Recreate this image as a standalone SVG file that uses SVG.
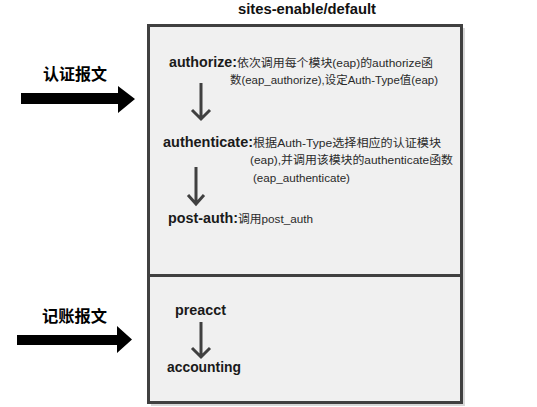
<svg xmlns="http://www.w3.org/2000/svg" width="537" height="407" viewBox="0 0 537 407">
<style>
.box{fill:#f0f0f0;stroke:#404040;stroke-width:3}
.shadow{fill:#d8d8d8}
.lbl{font-family:"Liberation Sans","Noto Sans CJK SC",sans-serif;font-weight:bold;font-size:14px;fill:#1a1a1a}
.desc{font-family:"Liberation Sans","Noto Sans CJK SC",sans-serif;font-size:11.5px;fill:#2a2a2a}
.title{font-family:"Liberation Sans",sans-serif;font-weight:bold;font-size:14px;fill:#111}
.cn{font-family:"Noto Sans CJK SC",sans-serif;font-weight:bold;font-size:16px;fill:#000}
.flow{fill:none;stroke:#404040;stroke-width:3}
.big{fill:#000}
</style>
<rect width="537" height="407" fill="#fff"/>
<g id="title"><text class="title" x="238" y="14" textLength="138" lengthAdjust="spacingAndGlyphs">sites-enable/default</text></g>
<g id="container">
<rect class="shadow" x="151" y="28" width="314" height="378"/>
<rect class="box" x="148.5" y="25.5" width="313" height="250"/>
<rect class="box" x="148.5" y="275.5" width="313" height="127"/>
</g>
<g id="auth-msg"><text class="cn" x="43" y="80" textLength="64" lengthAdjust="spacingAndGlyphs">认证报文</text></g>
<g id="acct-msg"><text class="cn" x="42" y="322" textLength="65" lengthAdjust="spacingAndGlyphs">记账报文</text></g>
<g id="authorize">
<text class="lbl" x="169" y="67" textLength="68" lengthAdjust="spacingAndGlyphs">authorize:</text>
<text class="desc" x="237" y="67" textLength="196" lengthAdjust="spacingAndGlyphs">依次调用每个模块(eap)的authorize函</text>
<text class="desc" x="230" y="84" textLength="208" lengthAdjust="spacingAndGlyphs">数(eap_authorize),设定Auth-Type值(eap)</text>
</g>
<g id="authenticate">
<text class="lbl" x="163" y="147" textLength="90" lengthAdjust="spacingAndGlyphs">authenticate:</text>
<text class="desc" x="253" y="147" textLength="188" lengthAdjust="spacingAndGlyphs">根据Auth-Type选择相应的认证模块</text>
<text class="desc" x="250" y="164" textLength="203" lengthAdjust="spacingAndGlyphs">(eap),并调用该模块的authenticate函数</text>
<text class="desc" x="253" y="182" textLength="97" lengthAdjust="spacingAndGlyphs">(eap_authenticate)</text>
</g>
<g id="post-auth">
<text class="lbl" x="168" y="223" textLength="70" lengthAdjust="spacingAndGlyphs">post-auth:</text>
<text class="desc" x="238" y="223" textLength="75" lengthAdjust="spacingAndGlyphs">调用post_auth</text>
</g>
<g id="preacct"><text class="lbl" x="175" y="315" textLength="51" lengthAdjust="spacingAndGlyphs">preacct</text></g>
<g id="accounting"><text class="lbl" x="167" y="372" textLength="74" lengthAdjust="spacingAndGlyphs">accounting</text></g>
<g id="connectors">
<polygon class="big" points="21,93 118,93 118,86 135,99 118,113 118,104 21,104"/>
<polygon class="big" points="17,335 117,335 117,326 132,339.5 117,353 117,345 17,345"/>
<path class="flow" d="M201,83V119M192,110L201,119L210,110"/>
<path class="flow" d="M196,167V204M188,195L196,204L204,195"/>
<path class="flow" d="M201,322V357M192,348L201,357L210,348"/>
</g>
</svg>
